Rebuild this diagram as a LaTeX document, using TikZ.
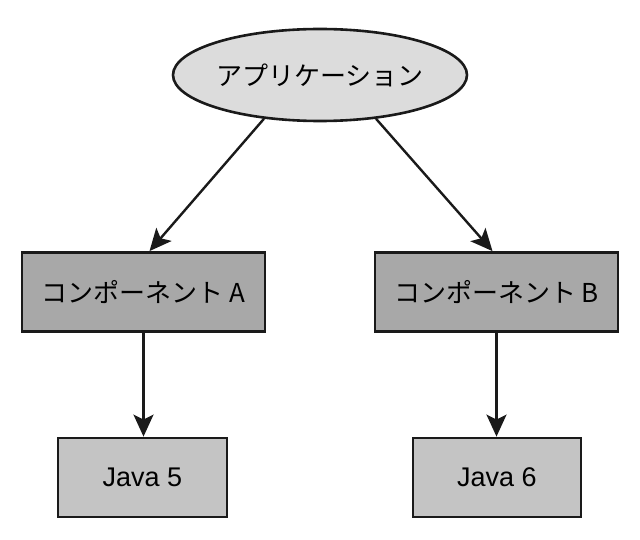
\documentclass[tikz,border=0pt]{standalone}
\usepackage{fontspec}
\setmainfont{Liberation Sans}
\newfontfamily\jpfont{Noto Sans CJK JP}
\usetikzlibrary{shapes.geometric,arrows.meta}
\definecolor{ellfill}{HTML}{DCDCDC}
\definecolor{compfill}{HTML}{A8A8A8}
\definecolor{javafill}{HTML}{C4C4C4}
\definecolor{edge}{HTML}{1A1A1A}
\begin{document}
\begin{tikzpicture}[x=1pt,y=-1pt,
  appnode/.style={ellipse,draw=edge,line width=2.6pt,fill=ellfill,minimum width=294pt,minimum height=92pt,inner sep=0pt,font=\jpfont\fontsize{26}{30}\selectfont},
  compbox/.style={rectangle,draw=edge,line width=2.8pt,fill=compfill,minimum width=243pt,minimum height=79pt,inner sep=0pt,font=\jpfont\fontsize{26}{30}\selectfont},
  javabox/.style={rectangle,draw=edge,line width=2.8pt,fill=javafill,minimum height=79pt,inner sep=0pt,font=\fontsize{27}{32}\selectfont},
  conn/.style={draw=edge,line width=2.4pt,-{Stealth[length=22pt,width=20pt,inset=5pt]}}]
\useasboundingbox (0,0) rectangle (640,540);
\fill[white] (0,0) rectangle (640,540);
\node[appnode] (app) at (320,75) {アプリケーション};
\node[compbox] (a) at (143.5,292) {コンポーネント A};
\node[compbox] (b) at (496.5,292) {コンポーネント B};
\node[javabox,minimum width=169pt] (j5) at (142.5,477.5) {Java 5};
\node[javabox,minimum width=168pt] (j6) at (497,477.5) {Java 6};
\draw[conn] (app.218) -- ([xshift=6pt]a.north);
\draw[conn] (app.322) -- ([xshift=-4pt]b.north);
\draw[conn] (a.south) -- (a.south |- j5.north);
\draw[conn] (b.south) -- (b.south |- j6.north);
\end{tikzpicture}
\end{document}
